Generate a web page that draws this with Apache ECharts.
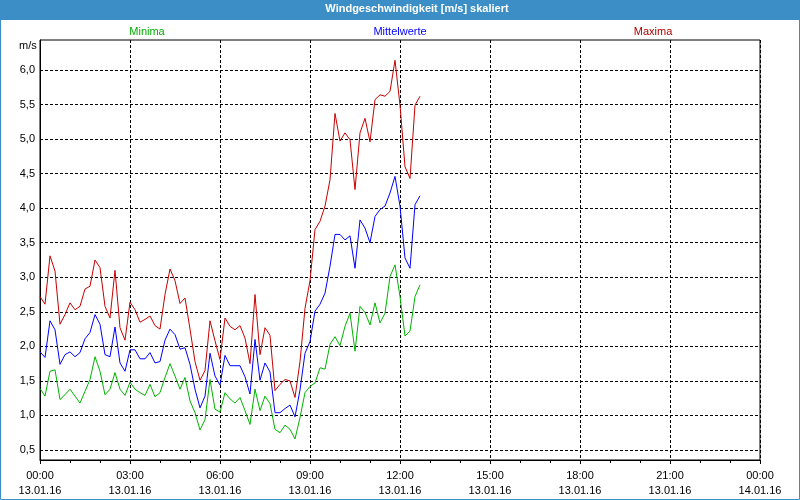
<!DOCTYPE html>
<html><head><meta charset="utf-8">
<script src="https://cdn.jsdelivr.net/npm/echarts@6/dist/echarts.min.js"></script>
<style>html,body{margin:0;padding:0;background:#fff}#c{width:800px;height:500px}</style>
</head><body><div id="c"></div>
<script>
// 10-minute samples starting 13.01.16 00:00
const sampleStepMinutes = 10;
const minima = [1.39,1.28,1.64,1.66,1.23,1.30,1.38,1.28,1.18,1.35,1.52,1.85,1.64,1.30,1.38,1.62,1.38,1.29,1.48,1.38,
  1.33,1.29,1.45,1.27,1.33,1.55,1.75,1.57,1.38,1.55,1.21,1.04,0.79,0.94,1.52,1.09,1.05,1.33,1.24,1.18,
  1.26,1.07,0.87,1.38,1.07,1.28,1.17,0.80,0.75,0.86,0.80,0.66,0.97,1.33,1.42,1.47,1.69,1.67,2.03,2.14,
  2.01,2.29,2.48,1.93,2.58,2.49,2.31,2.63,2.34,2.48,3.01,3.18,2.72,2.15,2.22,2.72,2.89];
const mittelwerte = [1.92,1.84,2.37,2.24,1.74,1.88,1.92,1.85,1.91,2.11,2.20,2.46,2.32,1.88,1.85,2.28,1.76,1.64,1.95,1.95,
  1.82,1.82,1.91,1.76,1.78,2.09,2.25,2.17,1.96,1.98,1.74,1.38,1.11,1.28,1.90,1.57,1.44,1.87,1.72,1.72,
  1.72,1.56,1.31,2.10,1.51,1.76,1.63,1.04,1.04,1.10,1.15,0.98,1.37,1.90,2.07,2.51,2.61,2.77,3.16,3.62,
  3.62,3.54,3.60,3.13,3.83,3.71,3.50,3.88,3.98,4.03,4.22,4.46,4.03,3.28,3.13,4.05,4.18];
const maxima = [2.72,2.61,3.31,3.09,2.32,2.46,2.63,2.53,2.58,2.83,2.87,3.25,3.14,2.58,2.41,3.10,2.27,2.09,2.64,2.53,
  2.35,2.39,2.44,2.30,2.25,2.75,3.12,2.95,2.62,2.70,2.25,1.78,1.51,1.65,2.37,2.08,1.81,2.41,2.29,2.24,
  2.30,2.12,1.75,2.75,1.88,2.27,2.16,1.36,1.45,1.52,1.50,1.26,1.78,2.55,2.95,3.69,3.81,4.03,4.41,5.37,
  4.97,5.09,4.99,4.27,5.09,5.30,4.96,5.57,5.64,5.62,5.69,6.14,5.49,4.60,4.43,5.49,5.62];
const yTicks = [0.5,1.0,1.5,2.0,2.5,3.0,3.5,4.0,4.5,5.0,5.5,6.0];
const xTicks = [0,180,360,540,720,900,1080,1260,1440];
const xTickLabels = ['00:00\n13.01.16','03:00\n13.01.16','06:00\n13.01.16','09:00\n13.01.16','12:00\n13.01.16',
  '15:00\n13.01.16','18:00\n13.01.16','21:00\n13.01.16','00:00\n14.01.16'];
const Y_MIN = 0.3555, Y_MAX = 6.4335;

const pairs = arr => arr.map((v, i) => [i * sampleStepMinutes, v]);
const FONT = 'Liberation Sans';
const chart = echarts.init(document.getElementById('c'), null, {renderer: 'canvas'});
const lineSeries = (name, data, color) => ({
  name, type: 'line', data: pairs(data), showSymbol: false, symbol: 'none',
  lineStyle: {color, width: 1}, itemStyle: {color}, animation: false, z: 3
});
chart.setOption({
  backgroundColor: '#ffffff',
  animation: false,
  textStyle: {fontFamily: FONT},
  graphic: [
    {type: 'rect', shape: {x: 0, y: 0, width: 800, height: 20}, style: {fill: '#3c8fc6'}, z: -1},
    {type: 'rect', shape: {x: 0.5, y: 0.5, width: 799, height: 499}, style: {fill: null, stroke: '#3c8fc6', lineWidth: 1}, z: -1}
  ],
  title: [
    {text: 'Windgeschwindigkeit [m/s] skaliert', left: 417, top: 3, textAlign: 'center', padding: 0,
      textStyle: {color: '#fff', fontSize: 11, fontWeight: 'bold', fontFamily: FONT}},
    {text: 'Minima', left: 147, top: 26, textAlign: 'center', padding: 0,
      textStyle: {color: '#00b000', fontSize: 11, fontWeight: 'normal', fontFamily: FONT}},
    {text: 'Mittelwerte', left: 400, top: 26, textAlign: 'center', padding: 0,
      textStyle: {color: '#0000ff', fontSize: 11, fontWeight: 'normal', fontFamily: FONT}},
    {text: 'Maxima', left: 653, top: 26, textAlign: 'center', padding: 0,
      textStyle: {color: '#b00000', fontSize: 11, fontWeight: 'normal', fontFamily: FONT}},
    {text: 'm/s', left: 19, top: 40, padding: 0,
      textStyle: {color: '#000', fontSize: 11, fontWeight: 'normal', fontFamily: FONT}}
  ],
  grid: {left: 40, right: 40, top: 40, bottom: 40, show: true, borderColor: '#000', borderWidth: 1, backgroundColor: '#fff', containLabel: false},
  xAxis: {
    type: 'value', min: 0, max: 1440, interval: 180,
    axisLine: {show: true, lineStyle: {color: '#000', width: 1}},
    axisTick: {show: true, length: 4, inside: false, lineStyle: {color: '#000'}},
    minorTick: {show: true, splitNumber: 3, length: 3, lineStyle: {color: '#000'}},
    axisLabel: {color: '#000', fontSize: 11, fontFamily: FONT, lineHeight: 15, margin: 8,
      formatter: v => { const k = xTicks.indexOf(v); return k >= 0 ? xTickLabels[k] : ''; }},
    splitLine: {show: true, lineStyle: {color: '#000', type: [3, 2], width: 1}}
  },
  yAxis: {
    type: 'value', min: Y_MIN, max: Y_MAX,
    axisLine: {show: true, lineStyle: {color: '#000', width: 1}},
    axisTick: {show: false, customValues: yTicks},
    axisLabel: {customValues: yTicks, color: '#000', fontSize: 11, fontFamily: FONT, margin: 5,
      formatter: v => Number(v).toFixed(1).replace('.', ',')},
    splitLine: {show: true, lineStyle: {color: '#000', type: [3, 2], width: 1}}
  },
  series: [
    lineSeries('Maxima', maxima, '#c80000'),
    lineSeries('Mittelwerte', mittelwerte, '#0000ff'),
    lineSeries('Minima', minima, '#00b400')
  ]
});
</script></body></html>
